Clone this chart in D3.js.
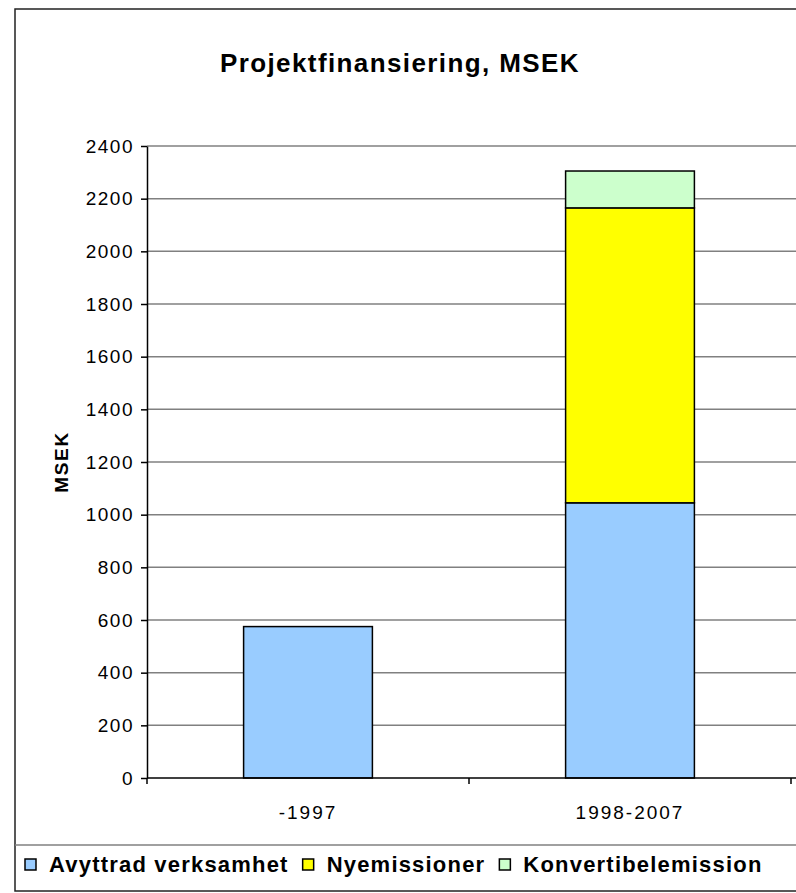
<!DOCTYPE html>
<html>
<head>
<meta charset="utf-8">
<script src="https://cdn.jsdelivr.net/npm/d3@7"></script>
<style>
    body { margin: 0; background: #fff; }
    text { font-family: "Liberation Sans", Arial, sans-serif; fill: #000; }
</style>
</head>
<body>
<svg id="chart" width="796" height="893"></svg>
<script>
const categories = ["-1997", "1998-2007"];
const series_names = ["Avyttrad verksamhet", "Nyemissioner", "Konvertibelemission"];
const avyttrad = [575, 1045];
const nyemissioner = [0, 1120];
const konvertibel = [0, 140];
const y_ticks = [0, 200, 400, 600, 800, 1000, 1200, 1400, 1600, 1800, 2000, 2200, 2400];
const colors = ["#99ccff", "#ffff00", "#ccffcc"];

(function (d3) {
    'use strict';

    const svg = d3.select("#chart");

    // outer frame, runs off the right edge like the original
    svg.append("rect")
        .attr("x", 15).attr("y", 9)
        .attr("width", 800).attr("height", 882)
        .attr("fill", "#fff")
        .attr("stroke", "#222").attr("stroke-width", 1.5);

    svg.append("line")
        .attr("x1", 15).attr("x2", 796)
        .attr("y1", 845).attr("y2", 845)
        .attr("stroke", "#808080").attr("stroke-width", 1.5);

    svg.append("text")
        .attr("x", 400).attr("y", 72)
        .attr("text-anchor", "middle")
        .style("font-size", "26px").style("font-weight", "bold")
        .style("letter-spacing", "1.4px")
        .text("Projektfinansiering, MSEK");

    const x = d3.scaleBand()
        .domain(categories)
        .range([147, 791])
        .paddingInner(0.6)
        .paddingOuter(0.3);

    const y = d3.scaleLinear()
        .domain([0, 2400])
        .range([778, 146]);

    // gridlines
    svg.append("g")
        .selectAll("line")
        .data(y_ticks.filter(d => d > 0))
        .enter()
        .append("line")
        .attr("x1", 147).attr("x2", 796)
        .attr("y1", d => y(d)).attr("y2", d => y(d))
        .attr("stroke", "#808080").attr("stroke-width", 1.5);

    // stacked bars
    const rows = categories.map((c, i) => ({
        cat: c,
        [series_names[0]]: avyttrad[i],
        [series_names[1]]: nyemissioner[i],
        [series_names[2]]: konvertibel[i]
    }));
    const stacked = d3.stack().keys(series_names)(rows);

    svg.append("g")
        .selectAll("g")
        .data(stacked)
        .enter()
        .append("g")
        .attr("fill", (d, i) => colors[i])
        .selectAll("rect")
        .data(d => d.filter(p => p[1] > p[0]))
        .enter()
        .append("rect")
        .attr("x", d => x(d.data.cat))
        .attr("width", x.bandwidth())
        .attr("y", d => y(d[1]))
        .attr("height", d => y(d[0]) - y(d[1]))
        .attr("stroke", "#000").attr("stroke-width", 1.5);

    // y axis
    const yAxis = svg.append("g")
        .attr("transform", "translate(147,0)")
        .call(d3.axisLeft(y).tickValues(y_ticks).tickFormat(d3.format("d"))
            .tickSize(6).tickPadding(7).tickSizeOuter(0));
    yAxis.select(".domain").attr("stroke", "#000").attr("stroke-width", 1.5);
    yAxis.selectAll(".tick line").attr("stroke", "#000").attr("stroke-width", 1.5);
    yAxis.selectAll("text")
        .style("font-size", "19px")
        .style("letter-spacing", "1.5px")
        .style("font-family", "'Liberation Sans', Arial, sans-serif")
        .attr("fill", "#000");

    // x axis
    const xg = svg.append("g").attr("transform", "translate(0,778)");
    xg.append("line")
        .attr("x1", 147).attr("x2", 796)
        .attr("stroke", "#000").attr("stroke-width", 1.5);
    const step = x.step();
    xg.selectAll(".xtick")
        .data([0, 1, 2])
        .enter()
        .append("line")
        .attr("x1", i => 147 + i * step).attr("x2", i => 147 + i * step)
        .attr("y1", 0).attr("y2", 6)
        .attr("stroke", "#000").attr("stroke-width", 1.5);
    xg.selectAll(".xlabel")
        .data(categories)
        .enter()
        .append("text")
        .attr("x", d => x(d) + x.bandwidth() / 2)
        .attr("y", 41)
        .attr("text-anchor", "middle")
        .style("font-size", "19px")
        .style("letter-spacing", "2px")
        .text(d => d);

    svg.append("text")
        .attr("transform", "translate(68,462) rotate(-90)")
        .attr("text-anchor", "middle")
        .style("font-size", "19px").style("font-weight", "bold")
        .style("letter-spacing", "1.7px")
        .text("MSEK");

    // legend, laid out left to right from the measured text widths
    const legend = svg.append("g").attr("transform", "translate(0,872)");
    let lx = 25;
    series_names.forEach((name, i) => {
        legend.append("rect")
            .attr("x", lx).attr("y", -13)
            .attr("width", 11).attr("height", 11)
            .attr("fill", colors[i])
            .attr("stroke", "#000").attr("stroke-width", 1.5);
        const t = legend.append("text")
            .attr("x", lx + 24).attr("y", 0)
            .style("font-size", "22px").style("font-weight", "bold")
            .style("letter-spacing", "1.2px")
            .text(name);
        lx += 24 + t.node().getComputedTextLength() + 14;
    });
}(d3));
</script>
</body>
</html>
